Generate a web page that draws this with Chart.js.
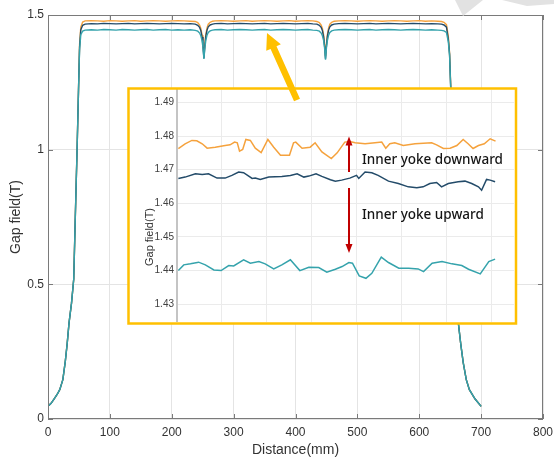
<!DOCTYPE html>
<html><head><meta charset="utf-8">
<script src="https://cdn.jsdelivr.net/npm/chart.js@4.4.1/dist/chart.umd.min.js"></script>
<style>
html,body{margin:0;padding:0;background:#fff;}
#wrap{position:relative;width:554px;height:459px;overflow:hidden;}
#main{position:absolute;left:0;top:0;}
#inset{position:absolute;left:127px;top:25px;}
</style></head><body>
<div id="wrap"><canvas id="main" width="554" height="459"></canvas><canvas id="inset" width="391" height="301"></canvas></div>
<script>
// ---------- main chart data ----------
const distance = [0,5,10,15,19,24,28,31,34,38,
  41.6,43.8,45.5,47,49.3,51,53,56,60,70,
  80,90,100,110,120,130,140,150,160,170,
  180,190,200,210,220,230,238,242,245,247,
  249,250.5,252,253.5,255,257,259,262,266,270,
  280,290,300,310,320,330,340,350,360,370,
  380,390,400,410,420,428,434.5,438.5,441.5,443.5,
  445.5,447,448.5,450,451.5,453.5,455.5,458.5,462.5,470,
  480,490,500,510,520,530,540,550,560,570,
  580,590,600,610,620,630,636,640,644,647,
  649,651,653,654.5,656,658,660,663,667,671,
  676,681,690,700];
const fieldUp = [0.047,0.058,0.075,0.092,0.109,0.146,0.215,0.28,0.357,0.43,
  0.52,0.72,0.87,1.0,1.22,1.37,1.427,1.440,1.444,1.445,
  1.444,1.446,1.445,1.444,1.446,1.445,1.444,1.445,1.446,1.444,
  1.445,1.446,1.444,1.445,1.444,1.445,1.443,1.440,1.433,1.423,
  1.405,1.378,1.337,1.378,1.405,1.425,1.435,1.441,1.444,1.445,
  1.446,1.444,1.445,1.446,1.445,1.444,1.445,1.446,1.444,1.445,
  1.446,1.445,1.444,1.445,1.446,1.444,1.443,1.440,1.433,1.423,
  1.405,1.378,1.334,1.378,1.405,1.425,1.435,1.441,1.444,1.445,
  1.446,1.445,1.444,1.445,1.446,1.444,1.445,1.446,1.445,1.444,
  1.445,1.446,1.445,1.444,1.445,1.444,1.443,1.441,1.435,1.40,
  1.35,1.22,1.0,0.87,0.72,0.55,0.45,0.36,0.28,0.21,
  0.146,0.109,0.075,0.047];
const fieldMid = [0.047,0.058,0.075,0.092,0.109,0.146,0.215,0.28,0.357,0.43,
  0.52,0.72,0.87,1.0,1.22,1.38,1.445,1.462,1.466,1.468,
  1.467,1.469,1.468,1.467,1.468,1.469,1.467,1.468,1.469,1.468,
  1.467,1.468,1.469,1.468,1.467,1.468,1.466,1.462,1.454,1.442,
  1.418,1.385,1.340,1.385,1.420,1.444,1.456,1.463,1.466,1.468,
  1.469,1.467,1.468,1.469,1.468,1.467,1.468,1.469,1.467,1.468,
  1.469,1.468,1.467,1.468,1.469,1.467,1.466,1.462,1.454,1.442,
  1.418,1.385,1.338,1.385,1.420,1.444,1.456,1.463,1.466,1.468,
  1.469,1.468,1.467,1.468,1.469,1.467,1.468,1.469,1.468,1.467,
  1.468,1.469,1.468,1.467,1.468,1.467,1.466,1.463,1.455,1.41,
  1.355,1.22,1.0,0.87,0.72,0.55,0.45,0.36,0.28,0.21,
  0.146,0.109,0.075,0.047];
const fieldDown = [0.047,0.058,0.075,0.092,0.109,0.146,0.215,0.28,0.357,0.43,
  0.52,0.72,0.87,1.0,1.22,1.39,1.455,1.474,1.478,1.479,
  1.478,1.477,1.479,1.478,1.477,1.478,1.479,1.477,1.478,1.479,
  1.478,1.477,1.478,1.479,1.478,1.477,1.476,1.472,1.463,1.450,
  1.425,1.392,1.350,1.392,1.427,1.452,1.466,1.473,1.477,1.478,
  1.479,1.478,1.477,1.478,1.479,1.477,1.478,1.479,1.478,1.477,
  1.478,1.479,1.477,1.478,1.479,1.478,1.476,1.472,1.463,1.450,
  1.425,1.392,1.348,1.392,1.427,1.452,1.466,1.473,1.477,1.478,
  1.479,1.478,1.477,1.478,1.479,1.478,1.477,1.478,1.479,1.478,
  1.477,1.478,1.479,1.477,1.478,1.477,1.476,1.473,1.464,1.42,
  1.36,1.23,1.0,0.87,0.72,0.55,0.45,0.36,0.28,0.21,
  0.146,0.109,0.075,0.047];
const xTicks = [0,100,200,300,400,500,600,700,800];
const yTicks = [0,0.5,1,1.5];

// ---------- inset (zoomed) data ----------
const insetDownX = [0.03,0.18,0.33,0.44,0.56,0.67,0.85,1.07,1.18,1.28,1.34,1.39,1.46,1.53,1.63,1.74,1.87,2.02,2.15,2.30,2.50,2.59,2.64,2.78,2.96,3.07,3.22,3.43,3.56,3.65,3.73,3.84,3.96,4.18,4.40,4.55,4.64,4.73,4.84,5.03,5.29,5.66,5.77,5.92,6.07,6.22,6.36,6.47,6.58,6.70,6.83,6.96,7.08];
const insetDownY = [1.4763,1.4777,1.4787,1.4786,1.4777,1.4764,1.4767,1.4772,1.4774,1.4782,1.4780,1.4755,1.4760,1.4790,1.4787,1.4764,1.4751,1.4790,1.4767,1.4743,1.4743,1.4780,1.4782,1.4764,1.4767,1.4780,1.4753,1.4733,1.4750,1.4767,1.4782,1.4784,1.4780,1.4777,1.4780,1.4782,1.4764,1.4777,1.4780,1.4772,1.4777,1.4780,1.4774,1.4763,1.4764,1.4772,1.4790,1.4777,1.4763,1.4772,1.4777,1.4792,1.4785];
const insetMidX = [0.03,0.18,0.41,0.56,0.70,0.89,1.07,1.22,1.37,1.48,1.67,1.74,1.85,2.04,2.33,2.52,2.67,2.82,2.93,3.09,3.22,3.41,3.52,3.66,3.84,3.99,4.04,4.18,4.33,4.47,4.70,4.92,5.14,5.33,5.47,5.62,5.77,5.88,6.03,6.25,6.40,6.55,6.70,6.77,6.88,6.96,7.07];
const insetMidY = [1.4674,1.4678,1.4688,1.4686,1.4688,1.4675,1.4675,1.4683,1.4693,1.4691,1.4674,1.4675,1.4671,1.4678,1.4680,1.4683,1.4688,1.4678,1.4681,1.4688,1.4680,1.4670,1.4666,1.4669,1.4675,1.4683,1.4674,1.4693,1.4691,1.4683,1.4666,1.4659,1.4649,1.4646,1.4649,1.4659,1.4662,1.4649,1.4659,1.4664,1.4666,1.4659,1.4649,1.4639,1.4671,1.4669,1.4664];
const insetUpX = [0.03,0.15,0.30,0.48,0.63,0.82,0.98,1.15,1.26,1.48,1.63,1.82,1.96,2.15,2.33,2.52,2.73,2.93,3.15,3.33,3.52,3.67,3.82,3.90,4.05,4.20,4.33,4.54,4.70,4.93,5.15,5.36,5.48,5.67,5.89,6.11,6.33,6.48,6.74,6.93,7.07];
const insetUpY = [1.4400,1.4417,1.4420,1.4425,1.4417,1.4402,1.4400,1.4415,1.4414,1.4432,1.4422,1.4427,1.4420,1.4405,1.4417,1.4432,1.4400,1.4410,1.4409,1.4395,1.4404,1.4412,1.4424,1.4422,1.4384,1.4377,1.4392,1.4440,1.4424,1.4407,1.4407,1.4405,1.4397,1.4422,1.4427,1.4420,1.4415,1.4404,1.4390,1.4427,1.4434];
const insetYTicks = [1.43,1.44,1.45,1.46,1.47,1.48,1.49];

const labelDown = 'Inner yoke downward';
const labelUp = 'Inner yoke upward';
const yTitle = 'Gap field(T)';
const xTitle = 'Distance(mm)';

const C_DOWN = '#F5A23D', C_MID = '#234B69', C_UP = '#35A3AC', GOLD = '#FFC000', RED = '#C00000';
const FAM = "'Liberation Sans', Arial, Helvetica, sans-serif";

function pts(xs, ys){ return xs.map((x,i)=>({x:x, y:ys[i]})); }

function drawArrow(ctx,x1,y1,x2,y2,sw,hw,hl,color){
  const ang=Math.atan2(y2-y1,x2-x1), len=Math.hypot(x2-x1,y2-y1);
  ctx.save(); ctx.translate(x1,y1); ctx.rotate(ang);
  ctx.beginPath();
  ctx.moveTo(0,-sw/2); ctx.lineTo(len-hl,-sw/2); ctx.lineTo(len-hl,-hw/2);
  ctx.lineTo(len,0); ctx.lineTo(len-hl,hw/2); ctx.lineTo(len-hl,sw/2); ctx.lineTo(0,sw/2);
  ctx.closePath(); ctx.fillStyle=color; ctx.fill(); ctx.restore();
}

// ---------- main chart ----------
const mainDecor = {
  id:'mainDecor',
  afterDraw(chart){
    const {ctx, chartArea:a, scales} = chart;
    ctx.save();
    ctx.strokeStyle='#7a7a7a'; ctx.lineWidth=1;
    ctx.strokeRect(Math.round(a.left)+0.5, Math.round(a.top)+0.5, Math.round(a.right-a.left)-1, Math.round(a.bottom-a.top)-1);
    ctx.beginPath();
    xTicks.forEach(v=>{ const px=Math.round(scales.x.getPixelForValue(v))+0.5;
      ctx.moveTo(px,a.bottom); ctx.lineTo(px,a.bottom-5); ctx.moveTo(px,a.top); ctx.lineTo(px,a.top+5); });
    yTicks.forEach(v=>{ const py=Math.round(scales.y.getPixelForValue(v))+0.5;
      ctx.moveTo(a.left,py); ctx.lineTo(a.left+5,py); ctx.moveTo(a.right,py); ctx.lineTo(a.right-5,py); });
    ctx.stroke();
    // faint grey watermark at the top-right corner
    ctx.fillStyle='#e2e2e2';
    ctx.beginPath(); ctx.moveTo(455,0); ctx.lineTo(483,0); ctx.lineTo(463,16); ctx.closePath(); ctx.fill();
    ctx.beginPath(); ctx.moveTo(502,0); ctx.lineTo(554,0); ctx.lineTo(554,4); ctx.lineTo(527,6); ctx.closePath(); ctx.fill();
    ctx.restore();
  }
};

new Chart(document.getElementById('main'), {
  type:'line',
  data:{ datasets:[
    {data:pts(distance, fieldUp), borderColor:C_UP, borderWidth:1.4, pointRadius:0, fill:false},
    {data:pts(distance, fieldMid), borderColor:C_MID, borderWidth:1.4, pointRadius:0, fill:false},
    {data:pts(distance, fieldDown), borderColor:C_DOWN, borderWidth:1.4, pointRadius:0, fill:false}
  ]},
  options:{
    responsive:false, animation:false, devicePixelRatio:1,
    layout:{padding:{left:0, right:11, top:15, bottom:0}},
    plugins:{legend:{display:false}, tooltip:{enabled:false}},
    scales:{
      x:{type:'linear', min:0, max:800,
        afterBuildTicks(s){ s.ticks = xTicks.map(v=>({value:v})); },
        ticks:{color:'#333', font:{family:FAM, size:12}, padding:6, maxRotation:0, callback:v=>String(v)},
        grid:{color:'#e4e4e4', drawTicks:false}, border:{display:false},
        title:{display:true, text:xTitle, color:'#333', font:{family:FAM, size:14}, padding:{top:2, bottom:0}},
        afterFit(s){ s.height=40; s.paddingLeft=0; s.paddingRight=0; }
      },
      y:{type:'linear', min:0, max:1.5,
        afterBuildTicks(s){ s.ticks = yTicks.map(v=>({value:v})); },
        ticks:{color:'#333', font:{family:FAM, size:12}, padding:4, callback:v=>String(v)},
        grid:{color:'#e4e4e4', drawTicks:false}, border:{display:false},
        title:{display:true, text:yTitle, color:'#333', font:{family:FAM, size:14}, padding:{top:8, bottom:0}},
        afterFit(s){ s.width=48; s.paddingTop=0; s.paddingBottom=0; }
      }
    }
  },
  plugins:[mainDecor]
});

// ---------- inset chart ----------
const insetDecor = {
  id:'insetDecor',
  beforeDraw(chart){
    const ctx=chart.ctx; ctx.save(); ctx.fillStyle='#fff';
    ctx.fillRect(1.5,63.5,387.5,235); ctx.restore();
  },
  afterDraw(chart){
    const ctx=chart.ctx; ctx.save();
    ctx.strokeStyle=GOLD; ctx.lineWidth=2.5;
    ctx.strokeRect(1.5,63.5,387.5,235);
    // red arrows
    drawArrow(ctx,222,147,222,111.5,2,7,9,RED);
    drawArrow(ctx,222,163,222,228,2,7,9,RED);
    // texts
    ctx.fillStyle='#151515'; ctx.textBaseline='middle'; ctx.textAlign='left';
    ctx.font="500 13.5px 'Noto Sans', 'Liberation Sans', sans-serif";
    ctx.fillText(labelDown,235,135);
    ctx.fillText(labelUp,235,190);
    // inset y title
    ctx.save(); ctx.translate(22.5,212); ctx.rotate(-Math.PI/2);
    ctx.textAlign='center'; ctx.fillStyle='#333'; ctx.font="11px "+FAM;
    ctx.fillText(yTitle,0,0); ctx.restore();
    // big gold pointer
    drawArrow(ctx,170,75,140,8,6.5,16,16,GOLD);
    ctx.restore();
  }
};

new Chart(document.getElementById('inset'), {
  type:'line',
  data:{ datasets:[
    {data:pts(insetUpX, insetUpY), borderColor:C_UP, borderWidth:1.5, pointRadius:0, fill:false},
    {data:pts(insetMidX, insetMidY), borderColor:C_MID, borderWidth:1.5, pointRadius:0, fill:false},
    {data:pts(insetDownX, insetDownY), borderColor:C_DOWN, borderWidth:1.5, pointRadius:0, fill:false}
  ]},
  options:{
    responsive:false, animation:false, devicePixelRatio:1,
    layout:{padding:{left:0, right:4, top:65, bottom:4.3}},
    plugins:{legend:{display:false}, tooltip:{enabled:false}},
    scales:{
      x:{type:'linear', min:0, max:7.49,
        ticks:{display:false, stepSize:1, includeBounds:false},
        grid:{color:'#ebebeb', drawTicks:false}, border:{display:false},
        afterFit(s){ s.height=0; s.paddingLeft=0; s.paddingRight=0; }
      },
      y:{type:'linear', min:1.4248, max:1.4937,
        afterBuildTicks(s){ s.ticks = insetYTicks.map(v=>({value:v})); },
        ticks:{color:'#404040', font:{family:FAM, size:10}, padding:3, callback:v=>v.toFixed(2)},
        grid:{color:'#ebebeb', drawTicks:false}, border:{display:true, color:'#c4c4c4', width:2},
        afterFit(s){ s.width=50; s.paddingTop=0; s.paddingBottom=0; }
      }
    }
  },
  plugins:[insetDecor]
});
</script>
</body></html>
